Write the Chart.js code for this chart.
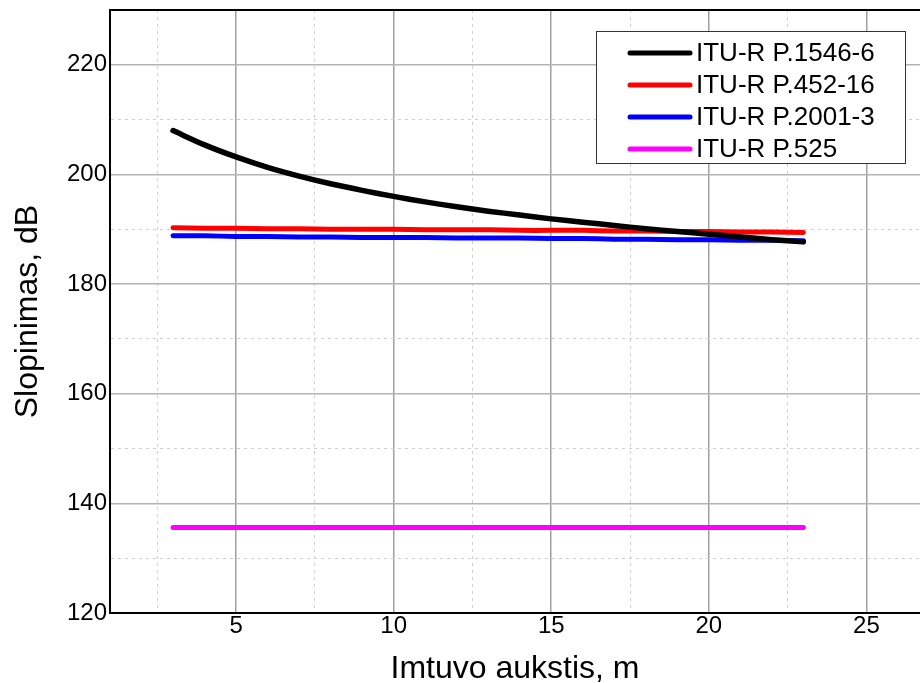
<!DOCTYPE html>
<html>
<head>
<meta charset="utf-8">
<script src="https://cdn.jsdelivr.net/npm/chart.js@4.4.0/dist/chart.umd.min.js"></script>
<style>
  html, body { margin: 0; padding: 0; background: #fff; }
  #wrap { width: 920px; height: 683px; }
</style>
</head>
<body>
<div id="wrap"><canvas id="c"></canvas></div>
<script>
const heights = [3, 4, 5, 6, 7, 8, 9, 10, 11, 12, 13, 14, 15, 16, 17, 18, 19, 20, 21, 22, 23];
const p1546 = [208.0, 205.4, 203.2, 201.3, 199.7, 198.3, 197.1, 196.0, 195.0, 194.1, 193.3,
               192.6, 191.9, 191.3, 190.7, 190.1, 189.6, 189.1, 188.6, 188.1, 187.7];
const p452 = [190.3, 190.2, 190.2, 190.1, 190.1, 190.0, 190.0, 190.0, 189.9, 189.9, 189.9,
              189.8, 189.8, 189.8, 189.7, 189.7, 189.6, 189.6, 189.5, 189.5, 189.4];
const p2001 = [188.8, 188.8, 188.7, 188.7, 188.6, 188.6, 188.5, 188.5, 188.5, 188.4, 188.4,
               188.4, 188.3, 188.3, 188.2, 188.2, 188.1, 188.1, 188.0, 188.0, 187.9];
const p525 = [135.6, 135.6, 135.6, 135.6, 135.6, 135.6, 135.6, 135.6, 135.6, 135.6, 135.6,
              135.6, 135.6, 135.6, 135.6, 135.6, 135.6, 135.6, 135.6, 135.6, 135.6];

const seriesNames = ['ITU-R P.1546-6', 'ITU-R P.452-16', 'ITU-R P.2001-3', 'ITU-R P.525'];
const seriesColors = ['#000000', '#ff0000', '#0000ff', '#ff00ff'];

const xLabels = [5, 10, 15, 20, 25];
const xGrid = [2.5, 5, 7.5, 10, 12.5, 15, 17.5, 20, 22.5, 25];
const yLabels = [120, 140, 160, 180, 200, 220];
const yGrid = [120, 130, 140, 150, 160, 170, 180, 190, 200, 210, 220, 230];

const FONT = "'Liberation Sans', Arial, sans-serif";

const pts = vals => heights.map((h, i) => ({ x: h, y: vals[i] }));

const boxLegend = {
  id: 'boxLegend',
  afterDraw(chart) {
    const { ctx, chartArea } = chart;
    const w = 309, h = 132;
    const left = chartArea.right - 15 - w, top = chartArea.top + 21;
    ctx.save();
    ctx.fillStyle = '#fff';
    ctx.fillRect(left, top, w, h);
    ctx.strokeStyle = '#333';
    ctx.lineWidth = 1;
    ctx.strokeRect(left + 0.5, top + 0.5, w, h);
    ctx.font = '26px ' + FONT;
    ctx.textBaseline = 'middle';
    chart.data.datasets.forEach((ds, i) => {
      const y = top + 22 + i * 32;
      ctx.strokeStyle = ds.borderColor;
      ctx.lineWidth = 5;
      ctx.lineCap = 'round';
      ctx.beginPath();
      ctx.moveTo(left + 34, y);
      ctx.lineTo(left + 94, y);
      ctx.stroke();
      ctx.fillStyle = '#000';
      ctx.fillText(ds.label, left + 100, y + 1);
    });
    ctx.restore();
  }
};

new Chart(document.getElementById('c'), {
  type: 'line',
  data: {
    datasets: [p1546, p452, p2001, p525].map((vals, i) => ({
      label: seriesNames[i],
      data: pts(vals),
      borderColor: seriesColors[i],
      backgroundColor: seriesColors[i],
      borderWidth: i === 0 ? 5.5 : 5,
      borderCapStyle: 'round',
      pointRadius: 0,
      tension: 0.3,
      fill: false
    }))
  },
  options: {
    responsive: true,
    maintainAspectRatio: false,
    animation: false,
    layout: { padding: { top: 10, right: 0, left: 0, bottom: 0 } },
    plugins: { legend: { display: false }, tooltip: { enabled: false } },
    scales: {
      x: {
        type: 'linear',
        min: 1,
        max: 26.7,
        afterBuildTicks: s => { s.ticks = xGrid.map(v => ({ value: v })); },
        afterFit: s => { s.height = 70; s.paddingLeft = 0; s.paddingRight = 0; },
        ticks: {
          autoSkip: false,
          maxRotation: 0,
          padding: -1,
          color: '#000',
          font: { family: FONT, size: 24 },
          callback: v => xLabels.includes(v) ? String(v) : ''
        },
        grid: {
          drawTicks: false,
          color: c => xLabels.includes(c.tick && c.tick.value) ? '#a0a0a0' : '#cfcfcf',
          lineWidth: c => xLabels.includes(c.tick && c.tick.value) ? 1.5 : 1
        },
        border: {
          color: '#000',
          width: 2,
          dash: c => (c.tick && !xLabels.includes(c.tick.value)) ? [3, 4] : []
        },
        title: {
          display: true,
          text: 'Imtuvo aukstis, m',
          color: '#000',
          font: { family: FONT, size: 32, lineHeight: 1 },
          padding: { top: 0, bottom: -2 }
        }
      },
      y: {
        type: 'linear',
        min: 120,
        max: 230,
        afterBuildTicks: s => { s.ticks = yGrid.map(v => ({ value: v })); },
        afterFit: s => { s.width = 110; s.paddingTop = 0; s.paddingBottom = 0; },
        ticks: {
          autoSkip: false,
          padding: 3,
          color: '#000',
          font: { family: FONT, size: 24 },
          callback: v => yLabels.includes(v) ? String(v) : ''
        },
        grid: {
          drawTicks: false,
          color: c => {
            const v = c.tick && c.tick.value;
            if (v === 230) return '#000';
            return yLabels.includes(v) ? '#b4b4b4' : '#cfcfcf';
          },
          lineWidth: c => (c.tick && c.tick.value === 230) ? 2 : (yLabels.includes(c.tick && c.tick.value) ? 1.5 : 1)
        },
        border: {
          color: '#000',
          width: 2,
          dash: c => (c.tick && !yLabels.includes(c.tick.value) && c.tick.value !== 230) ? [3, 4] : []
        },
        title: {
          display: true,
          text: 'Slopinimas, dB',
          color: '#000',
          font: { family: FONT, size: 32, lineHeight: 1 },
          padding: { top: 12, bottom: 0 }
        }
      }
    }
  },
  plugins: [boxLegend]
});
</script>
</body>
</html>
